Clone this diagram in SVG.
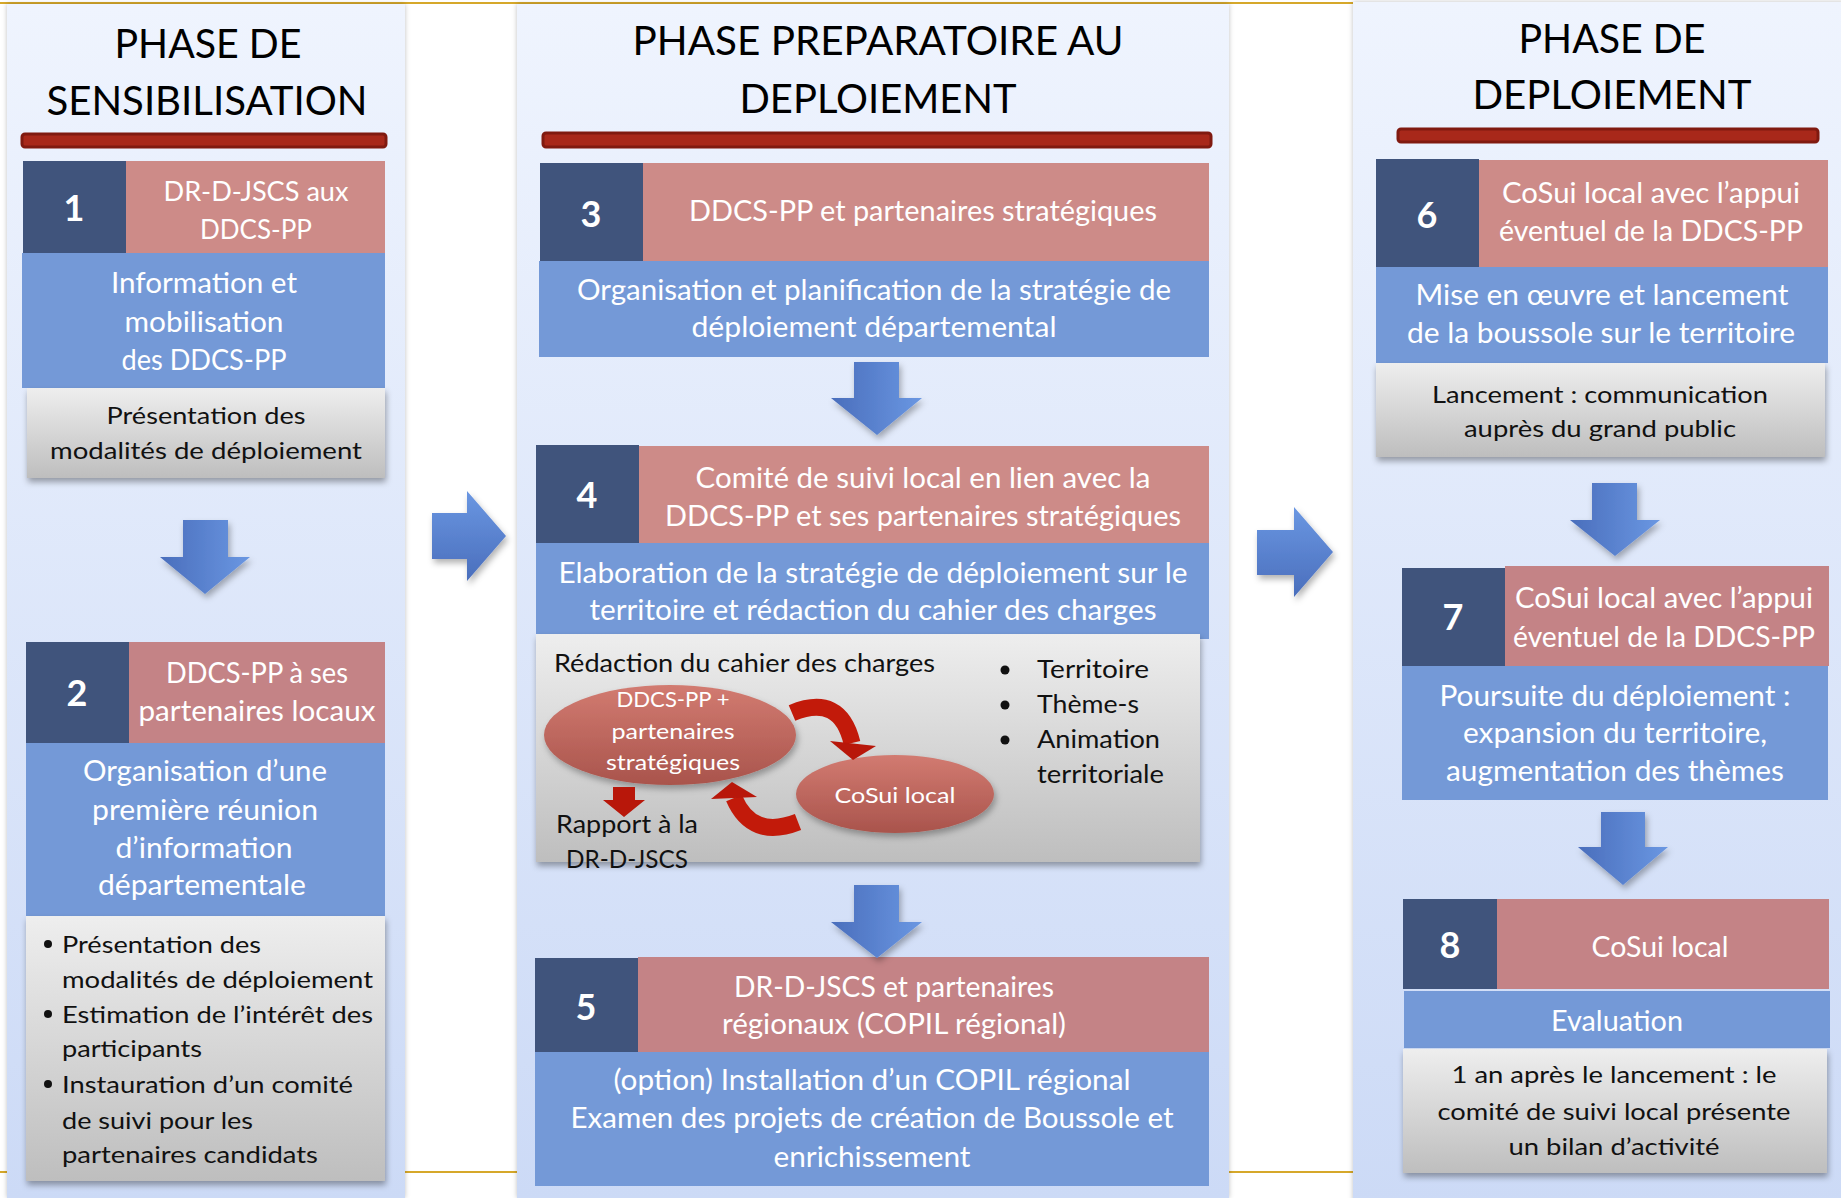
<svg xmlns="http://www.w3.org/2000/svg" width="1841" height="1198" viewBox="0 0 1841 1198">
<style>
text { font-family: Lato, "Liberation Sans", "DejaVu Sans", sans-serif; }
.w { fill: #ffffff; }
.k { fill: #111111; }
.c { text-anchor: middle; }
.ttl { font-size: 41px; fill: #000; text-anchor: middle; }
.num { font-size: 36px; font-weight: bold; fill: #fff; text-anchor: middle; }
.f29 { font-size: 29px; }
.f28 { font-size: 28px; }
.f27 { font-size: 27px; }
.f25 { font-size: 25px; }
.f24 { font-size: 24px; }
.f22 { font-size: 22px; }
.nb { fill: #40547C; }
.pk { fill: #CD8B88; }
.pk2 { fill: #C48386; }
.bl { fill: #7499D7; }
.gr { fill: url(#grayG); filter: url(#sh); }
.bar { fill: #A8281A; stroke: #801A10; stroke-width: 3; }
.panel { fill: url(#panelG); filter: url(#psh); }
.adn { fill: url(#arrD); filter: url(#ash); }
.art { fill: url(#arrR); filter: url(#ash); }
.red { fill: none; stroke: #C21A0A; stroke-width: 17; }
.redh { fill: #B8170A; }
.ell { fill: url(#ellG); filter: url(#ash); }
</style>
<defs>
<linearGradient id="panelG" x1="0" y1="0" x2="0" y2="1">
<stop offset="0" stop-color="#EFF4FE"/><stop offset="1" stop-color="#CCDAF6"/>
</linearGradient>
<linearGradient id="grayG" x1="0" y1="0" x2="0" y2="1">
<stop offset="0" stop-color="#EEEEEE"/><stop offset="1" stop-color="#BEBEBE"/>
</linearGradient>
<linearGradient id="arrD" x1="0" y1="0" x2="1" y2="0">
<stop offset="0" stop-color="#4A6EBC"/><stop offset="1" stop-color="#6A97E2"/>
</linearGradient>
<linearGradient id="arrR" x1="0" y1="0" x2="0" y2="1">
<stop offset="0" stop-color="#6A97E2"/><stop offset="1" stop-color="#4A6EBC"/>
</linearGradient>
<linearGradient id="ellG" x1="0" y1="0" x2="0" y2="1">
<stop offset="0" stop-color="#D27B71"/><stop offset="1" stop-color="#A9544C"/>
</linearGradient>
<filter id="sh" x="-5%" y="-10%" width="112%" height="130%">
<feDropShadow dx="1" dy="4" stdDeviation="3" flood-color="#000" flood-opacity="0.35"/>
</filter>
<filter id="psh" x="-5%" y="-2%" width="110%" height="104%">
<feDropShadow dx="0" dy="0" stdDeviation="2.5" flood-color="#000" flood-opacity="0.25"/>
</filter>
<filter id="ash" x="-20%" y="-20%" width="150%" height="150%">
<feDropShadow dx="2" dy="4" stdDeviation="3" flood-color="#000" flood-opacity="0.3"/>
</filter>
</defs>

<rect width="1841" height="1198" fill="#ffffff"/>
<line x1="0" y1="3" x2="1353" y2="3" stroke="#D6A82A" stroke-width="2"/>
<line x1="0" y1="1172" x2="1841" y2="1172" stroke="#D6A82A" stroke-width="2"/>

<g id="phase-sensibilisation">
<rect class="panel" x="7" y="4" width="398" height="1194"/>
<text class="ttl" x="208" y="58" textLength="187" lengthAdjust="spacingAndGlyphs">PHASE DE</text>
<text class="ttl" x="207" y="115" textLength="321" lengthAdjust="spacingAndGlyphs">SENSIBILISATION</text>
<rect class="bar" x="22" y="134" width="364" height="13" rx="3"/>
</g>
<g id="phase-preparatoire">
<rect class="panel" x="517" y="4" width="712" height="1194"/>
<text class="ttl" x="878" y="55" textLength="491" lengthAdjust="spacingAndGlyphs">PHASE PREPARATOIRE AU</text>
<text class="ttl" x="878" y="113" textLength="277" lengthAdjust="spacingAndGlyphs">DEPLOIEMENT</text>
<rect class="bar" x="543" y="133" width="668" height="14" rx="3"/>
</g>
<g id="phase-deploiement">
<rect class="panel" x="1353" y="2" width="492" height="1200"/>
<text class="ttl" x="1612" y="53" textLength="187" lengthAdjust="spacingAndGlyphs">PHASE DE</text>
<text class="ttl" x="1612" y="109" textLength="279" lengthAdjust="spacingAndGlyphs">DEPLOIEMENT</text>
<rect class="bar" x="1398" y="129" width="420" height="13" rx="3"/>
</g>

<g id="node1">
<rect class="nb" x="23" y="161" width="103" height="92"/>
<rect class="pk" x="126" y="161" width="259" height="92"/>
<rect class="bl" x="22" y="253" width="363" height="135"/>
<rect class="gr" x="27" y="388" width="358" height="90"/>
<text class="num" x="74" y="221">1</text>
<text class="w c f27" x="256" y="201" textLength="185" lengthAdjust="spacingAndGlyphs">DR-D-JSCS aux</text>
<text class="w c f27" x="256" y="239" textLength="112" lengthAdjust="spacingAndGlyphs">DDCS-PP</text>
<text class="w c f28" x="204" y="293" textLength="186" lengthAdjust="spacingAndGlyphs">Information et</text>
<text class="w c f28" x="204" y="332" textLength="159" lengthAdjust="spacingAndGlyphs">mobilisation</text>
<text class="w c f28" x="204" y="370" textLength="165" lengthAdjust="spacingAndGlyphs">des DDCS-PP</text>
<text class="k c f24" x="206" y="424" textLength="199" lengthAdjust="spacingAndGlyphs">Présentation des</text>
<text class="k c f24" x="206" y="459" textLength="312" lengthAdjust="spacingAndGlyphs">modalités de déploiement</text>
</g>

<g id="node2">
<rect class="nb" x="26" y="642" width="103" height="101"/>
<rect class="pk2" x="129" y="642" width="256" height="101"/>
<rect class="bl" x="26" y="743" width="359" height="173"/>
<rect class="gr" x="26" y="916" width="359" height="265"/>
<text class="num" x="77" y="706">2</text>
<text class="w c f28" x="257" y="683" textLength="182" lengthAdjust="spacingAndGlyphs">DDCS-PP à ses</text>
<text class="w c f28" x="257" y="721" textLength="237" lengthAdjust="spacingAndGlyphs">partenaires locaux</text>
<text class="w c f28" x="205" y="781" textLength="244" lengthAdjust="spacingAndGlyphs">Organisation d’une</text>
<text class="w c f28" x="205" y="820" textLength="226" lengthAdjust="spacingAndGlyphs">première réunion</text>
<text class="w c f28" x="204" y="858" textLength="177" lengthAdjust="spacingAndGlyphs">d’information</text>
<text class="w c f28" x="202" y="895" textLength="208" lengthAdjust="spacingAndGlyphs">départementale</text>
<circle cx="48" cy="944" r="4" fill="#111"/>
<circle cx="48" cy="1014" r="4" fill="#111"/>
<circle cx="48" cy="1084" r="4" fill="#111"/>
<text class="k f24" x="62" y="953" textLength="199" lengthAdjust="spacingAndGlyphs">Présentation des</text>
<text class="k f24" x="62" y="988" textLength="311" lengthAdjust="spacingAndGlyphs">modalités de déploiement</text>
<text class="k f24" x="62" y="1023" textLength="311" lengthAdjust="spacingAndGlyphs">Estimation de l’intérêt des</text>
<text class="k f24" x="62" y="1057" textLength="140" lengthAdjust="spacingAndGlyphs">participants</text>
<text class="k f24" x="62" y="1093" textLength="291" lengthAdjust="spacingAndGlyphs">Instauration d’un comité</text>
<text class="k f24" x="62" y="1129" textLength="191" lengthAdjust="spacingAndGlyphs">de suivi pour les</text>
<text class="k f24" x="62" y="1163" textLength="256" lengthAdjust="spacingAndGlyphs">partenaires candidats</text>
</g>

<g id="node3">
<rect class="nb" x="540" y="163" width="103" height="98"/>
<rect class="pk" x="643" y="163" width="566" height="98"/>
<rect class="bl" x="539" y="261" width="670" height="96"/>
<text class="num" x="591" y="227">3</text>
<text class="w c f29" x="923" y="221" textLength="468" lengthAdjust="spacingAndGlyphs">DDCS-PP et partenaires stratégiques</text>
<text class="w c f29" x="874" y="300" textLength="594" lengthAdjust="spacingAndGlyphs">Organisation et planification de la stratégie de</text>
<text class="w c f29" x="874" y="337" textLength="365" lengthAdjust="spacingAndGlyphs">déploiement départemental</text>
</g>

<g id="node4">
<rect class="nb" x="536" y="445" width="103" height="98"/>
<rect class="pk" x="639" y="446" width="570" height="97"/>
<rect class="bl" x="536" y="543" width="673" height="96"/>
<rect class="gr" x="536" y="634" width="664" height="228"/>
<text class="num" x="587" y="508">4</text>
<text class="w c f29" x="923" y="488" textLength="455" lengthAdjust="spacingAndGlyphs">Comité de suivi local en lien avec la</text>
<text class="w c f29" x="923" y="526" textLength="516" lengthAdjust="spacingAndGlyphs">DDCS-PP et ses partenaires stratégiques</text>
<text class="w c f29" x="873" y="583" textLength="629" lengthAdjust="spacingAndGlyphs">Elaboration de la stratégie de déploiement sur le</text>
<text class="w c f29" x="873" y="620" textLength="567" lengthAdjust="spacingAndGlyphs">territoire et rédaction du cahier des charges</text>
<text class="k f25" x="554" y="672" textLength="381" lengthAdjust="spacingAndGlyphs">Rédaction du cahier des charges</text>
<circle cx="1005" cy="670" r="4.5" fill="#111"/>
<circle cx="1005" cy="705" r="4.5" fill="#111"/>
<circle cx="1005" cy="740" r="4.5" fill="#111"/>
<text class="k f25" x="1037" y="678" textLength="112" lengthAdjust="spacingAndGlyphs">Territoire</text>
<text class="k f25" x="1037" y="713" textLength="102" lengthAdjust="spacingAndGlyphs">Thème-s</text>
<text class="k f25" x="1037" y="748" textLength="123" lengthAdjust="spacingAndGlyphs">Animation</text>
<text class="k f25" x="1037" y="783" textLength="127" lengthAdjust="spacingAndGlyphs">territoriale</text>
<g id="node4-ddcs">
<ellipse class="ell" cx="670" cy="735" rx="126" ry="50"/>
<text class="w c f22" x="673" y="707" textLength="113" lengthAdjust="spacingAndGlyphs">DDCS-PP +</text>
<text class="w c f22" x="673" y="739" textLength="123" lengthAdjust="spacingAndGlyphs">partenaires</text>
<text class="w c f22" x="673" y="770" textLength="134" lengthAdjust="spacingAndGlyphs">stratégiques</text>
</g>
<g id="node4-cosui">
<ellipse class="ell" cx="895" cy="794" rx="99" ry="39"/>
<text class="w c f22" x="895" y="803" textLength="121" lengthAdjust="spacingAndGlyphs">CoSui  local</text>
</g>
<text class="k f25" x="556" y="833" textLength="142" lengthAdjust="spacingAndGlyphs">Rapport à la</text>
<text class="k f25" x="566" y="868" textLength="122" lengthAdjust="spacingAndGlyphs">DR-D-JSCS</text>
</g>

<g id="node5">
<rect class="nb" x="535" y="958" width="103" height="95"/>
<rect class="pk2" x="638" y="957" width="571" height="95"/>
<rect class="bl" x="535" y="1052" width="674" height="134"/>
<text class="num" x="586" y="1020">5</text>
<text class="w c f29" x="894" y="997" textLength="320" lengthAdjust="spacingAndGlyphs">DR-D-JSCS et partenaires</text>
<text class="w c f29" x="894" y="1034" textLength="344" lengthAdjust="spacingAndGlyphs">régionaux (COPIL régional)</text>
<text class="w c f29" x="872" y="1090" textLength="517" lengthAdjust="spacingAndGlyphs">(option) Installation d’un COPIL régional</text>
<text class="w c f29" x="872" y="1128" textLength="603" lengthAdjust="spacingAndGlyphs">Examen des projets de création de Boussole et</text>
<text class="w c f29" x="872" y="1167" textLength="197" lengthAdjust="spacingAndGlyphs">enrichissement</text>
</g>

<g id="node6">
<rect class="nb" x="1376" y="159" width="103" height="108"/>
<rect class="pk" x="1479" y="160" width="349" height="107"/>
<rect class="bl" x="1376" y="267" width="452" height="96"/>
<rect class="gr" x="1376" y="363" width="449" height="94"/>
<text class="num" x="1427" y="228">6</text>
<text class="w c f28" x="1651" y="203" textLength="298" lengthAdjust="spacingAndGlyphs">CoSui local avec l’appui</text>
<text class="w c f28" x="1651" y="241" textLength="304" lengthAdjust="spacingAndGlyphs">éventuel de la DDCS-PP</text>
<text class="w c f28" x="1602" y="305" textLength="373" lengthAdjust="spacingAndGlyphs">Mise en œuvre et lancement</text>
<text class="w c f28" x="1601" y="343" textLength="388" lengthAdjust="spacingAndGlyphs">de la boussole sur le territoire</text>
<text class="k c f24" x="1600" y="403" textLength="336" lengthAdjust="spacingAndGlyphs">Lancement : communication</text>
<text class="k c f24" x="1600" y="437" textLength="272" lengthAdjust="spacingAndGlyphs">auprès du grand public</text>
</g>

<g id="node7">
<rect class="nb" x="1402" y="568" width="103" height="98"/>
<rect class="pk2" x="1505" y="566" width="324" height="100"/>
<rect class="bl" x="1402" y="666" width="426" height="134"/>
<text class="num" x="1453" y="630">7</text>
<text class="w c f28" x="1664" y="608" textLength="298" lengthAdjust="spacingAndGlyphs">CoSui local avec l’appui</text>
<text class="w c f28" x="1664" y="647" textLength="302" lengthAdjust="spacingAndGlyphs">éventuel de la DDCS-PP</text>
<text class="w c f28" x="1615" y="706" textLength="351" lengthAdjust="spacingAndGlyphs">Poursuite du déploiement :</text>
<text class="w c f28" x="1615" y="743" textLength="304" lengthAdjust="spacingAndGlyphs">expansion du territoire,</text>
<text class="w c f28" x="1615" y="781" textLength="338" lengthAdjust="spacingAndGlyphs">augmentation des thèmes</text>
</g>

<g id="node8">
<rect class="nb" x="1403" y="899" width="94" height="90"/>
<rect class="pk2" x="1497" y="899" width="332" height="90"/>
<rect class="bl" x="1404" y="991" width="426" height="57"/>
<rect class="gr" x="1403" y="1049" width="424" height="124"/>
<text class="num" x="1450" y="958">8</text>
<text class="w c f28" x="1660" y="957" textLength="137" lengthAdjust="spacingAndGlyphs">CoSui local</text>
<text class="w c f28" x="1617" y="1031" textLength="132" lengthAdjust="spacingAndGlyphs">Evaluation</text>
<text class="k c f24" x="1614" y="1083" textLength="325" lengthAdjust="spacingAndGlyphs">1 an après le lancement : le</text>
<text class="k c f24" x="1614" y="1120" textLength="353" lengthAdjust="spacingAndGlyphs">comité de suivi local présente</text>
<text class="k c f24" x="1614" y="1155" textLength="211" lengthAdjust="spacingAndGlyphs">un bilan d’activité</text>
</g>

<g id="connectors">
<polygon class="adn" points="183,520 228,520 228,557 250,557 205,594 160,557 183,557"/>
<polygon class="adn" points="854,362 899,362 899,398 922,398 877,435 831,398 854,398"/>
<polygon class="adn" points="854,885 899,885 899,922 922,922 877,958 831,922 854,922"/>
<polygon class="adn" points="1592,483 1637,483 1637,520 1660,520 1615,556 1570,520 1592,520"/>
<polygon class="adn" points="1601,812 1645,812 1645,847 1668,847 1623,885 1578,847 1601,847"/>
<polygon class="art" points="432,513 467,513 467,491 506,536 467,581 467,559 432,559"/>
<polygon class="art" points="1257,530 1294,530 1294,507 1333,552 1294,597 1294,575 1257,575"/>
<path class="red" d="M792 713 Q840 693 852 743"/>
<polygon class="redh" points="830,741 876,746 853,760"/>
<path class="red" d="M798 822 Q752 840 734 798"/>
<polygon class="redh" points="711,799 757,797 732,782"/>
<polygon class="redh" points="613,787 635,787 635,800 645,800 624,817 603,800 613,800"/>
</g>
</svg>
